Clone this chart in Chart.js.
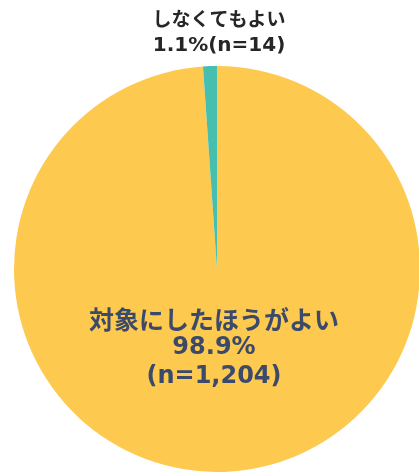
<!DOCTYPE html>
<html>
<head>
<meta charset="utf-8">
<script src="https://cdn.jsdelivr.net/npm/chart.js@4.4.1/dist/chart.umd.min.js"></script>
<style>
  html, body { margin: 0; padding: 0; background: #fff; overflow: hidden; }
  .wrap { position: relative; width: 434px; height: 474px; }
</style>
</head>
<body>
<div class="wrap"><canvas id="pieChart"></canvas></div>
<script>
// data
const labels = ['対象にしたほうがよい', 'しなくてもよい'];
const percents = [98.9, 1.1];
const counts = ['1,204', '14'];
const colors = ['#FDC94F', '#47BFAE'];

// labels on top of the pie
const labelPlugin = {
  id: 'pieLabels',
  afterDraw(chart) {
    const ctx = chart.ctx;
    const arc = chart.getDatasetMeta(0).data[0];
    ctx.save();
    ctx.textAlign = 'center';
    ctx.textBaseline = 'middle';

    // big slice: inside
    ctx.fillStyle = '#3B4A6A';
    const cx = arc.x - 3;
    ctx.font = 'bold 25px "Noto Sans CJK JP", sans-serif';
    ctx.fillText(labels[0], cx, arc.y + 50);
    ctx.font = 'bold 24px "DejaVu Sans", "Noto Sans CJK JP", sans-serif';
    ctx.fillText(percents[0].toFixed(1) + '%', cx, arc.y + 79);
    ctx.fillText('(n=' + counts[0] + ')', cx, arc.y + 108);

    // small slice: above the pie
    ctx.fillStyle = '#262626';
    const ty = arc.y - arc.outerRadius;
    ctx.font = 'bold 19px "Noto Sans CJK JP", sans-serif';
    ctx.fillText(labels[1], arc.x + 2, ty - 47);
    ctx.font = 'bold 20px "DejaVu Sans", "Noto Sans CJK JP", sans-serif';
    ctx.fillText(percents[1].toFixed(1) + '%(n=' + counts[1] + ')', arc.x + 2, ty - 20);
    ctx.restore();
  }
};

document.addEventListener('DOMContentLoaded', function() {
  new Chart(document.getElementById('pieChart'), {
    type: 'pie',
    data: {
      labels: labels,
      datasets: [{
        data: percents,
        backgroundColor: colors,
        borderWidth: 0
      }]
    },
    options: {
      responsive: true,
      maintainAspectRatio: false,
      animation: false,
      layout: { padding: { left: 14, right: 14, top: 66, bottom: 2 } },
      plugins: {
        legend: { display: false },
        tooltip: { enabled: false }
      }
    },
    plugins: [labelPlugin]
  });
});
</script>
</body>
</html>
